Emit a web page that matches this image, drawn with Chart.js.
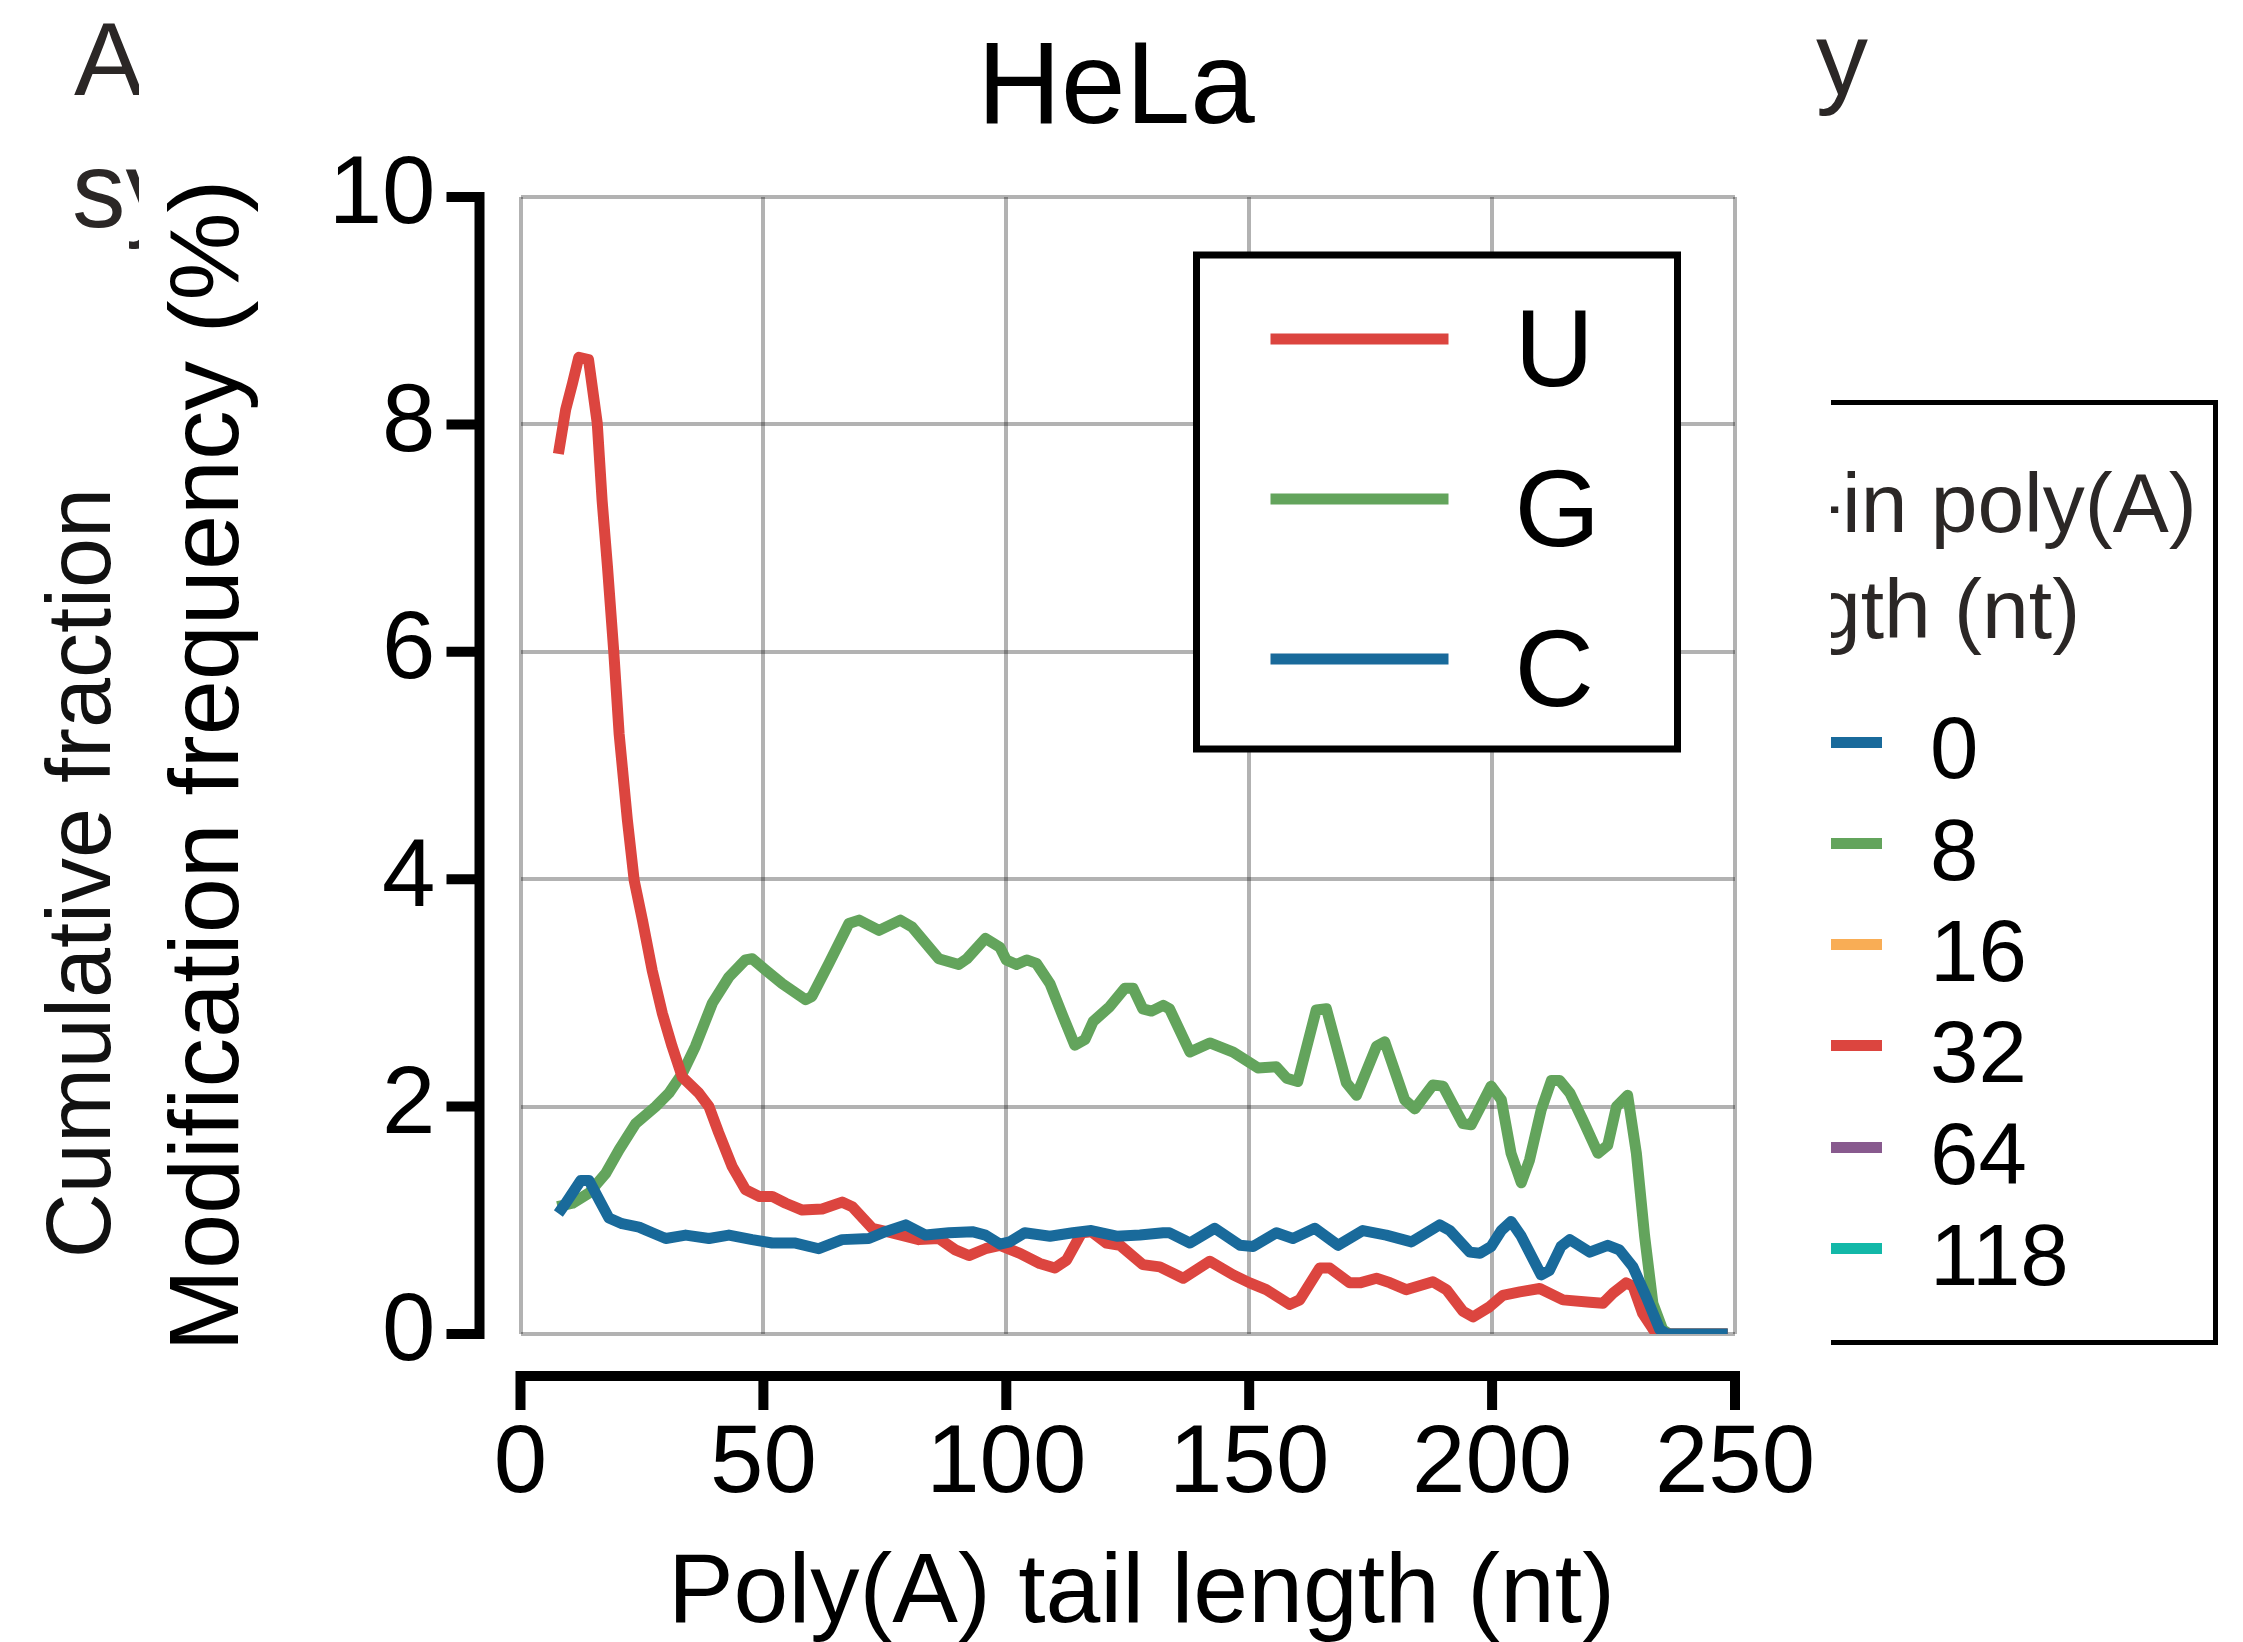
<!DOCTYPE html>
<html>
<head>
<meta charset="utf-8">
<title>HeLa modification frequency</title>
<script src="https://cdn.jsdelivr.net/npm/chart.js@4.4.1/dist/chart.umd.min.js"></script>
<style>
	body { margin: 0; background: #fff; overflow: hidden; }
	#page { position: relative; width: 2243px; height: 1642px; font-family: "Liberation Sans", Arial, sans-serif; }
	#page canvas { position: absolute; left: 0; top: 0; }
	.clip { position: absolute; overflow: hidden; }
	.txt { position: absolute; white-space: nowrap; }
	.swatch { position: absolute; height: 11px; }
</style>
</head>
<body>
<div id="page">
	<canvas id="freq-chart" width="2243" height="1642"></canvas>

	<!-- bits of the neighbouring panel that show around the chart -->
	<div class="clip" style="left:0; top:0; width:139px; height:300px;">
		<div class="txt" style="left:74px; top:7px; font-size:104px; line-height:104px; color:#2b2726;">A</div>
		<div class="txt" style="left:72px; top:137px; font-size:107px; line-height:107px; color:#2b2726;">sy</div>
	</div>
	<div class="txt" style="left:-371px; top:828px; width:900px; text-align:center; font-size:90px; line-height:90px; color:#111; transform:rotate(-90deg);">Cumulative fraction</div>
	<div class="txt" style="left:1816px; top:6px; font-size:104px; line-height:104px; color:#2b2726;">y</div>

	<div class="clip" id="side-legend" style="left:1831px; top:0; width:412px; height:1642px;"></div>
</div>

<script>
// poly(A) tail length (nt) and modification frequency (%)
const uLength = [7.8, 9.3, 10.7, 12.0, 14.0, 15.8, 16.8, 17.9, 19.2, 20.3, 22.0, 23.4, 25.1, 27.1, 29.2, 31.2, 33.3, 36.7, 38.8, 40.8, 43.6, 46.3, 49.1, 51.8, 54.6, 58.0, 62.1, 66.2, 68.3, 72.4, 76.5, 82.0, 86.1, 89.5, 92.3, 95.7, 98.7, 102.8, 106.9, 110.0, 112.4, 115.5, 117.5, 120.6, 123.4, 128.1, 131.6, 136.4, 141.9, 146.7, 150.1, 153.5, 158.3, 160.4, 164.5, 166.6, 170.7, 172.8, 176.2, 179.0, 182.3, 187.8, 190.6, 194.0, 196.1, 199.5, 202.2, 205.7, 209.8, 214.6, 220.1, 222.8, 224.9, 227.6, 229.0, 231.0, 233.8, 248.5];
const uFreq = [7.74, 8.13, 8.36, 8.59, 8.57, 8.01, 7.33, 6.75, 6.00, 5.28, 4.52, 3.99, 3.64, 3.20, 2.82, 2.53, 2.26, 2.12, 2.00, 1.77, 1.47, 1.27, 1.21, 1.21, 1.15, 1.09, 1.10, 1.16, 1.12, 0.93, 0.89, 0.83, 0.84, 0.74, 0.69, 0.75, 0.78, 0.71, 0.62, 0.58, 0.65, 0.89, 0.90, 0.80, 0.78, 0.61, 0.59, 0.49, 0.64, 0.52, 0.45, 0.39, 0.26, 0.30, 0.58, 0.58, 0.45, 0.45, 0.49, 0.45, 0.39, 0.46, 0.39, 0.20, 0.15, 0.24, 0.34, 0.37, 0.40, 0.30, 0.28, 0.27, 0.36, 0.45, 0.42, 0.18, 0, 0];

const gLength = [7.6, 10.7, 14.1, 17.5, 20.3, 23.7, 27.8, 30.6, 33.3, 36.0, 39.5, 42.9, 46.3, 47.7, 50.5, 53.9, 58.7, 60.0, 63.5, 67.6, 69.7, 73.8, 78.2, 80.6, 86.1, 90.2, 91.9, 95.7, 98.7, 100.0, 102.1, 104.2, 106.2, 109.0, 111.7, 114.1, 116.2, 117.9, 121.3, 124.4, 126.1, 128.1, 129.9, 132.3, 133.6, 137.8, 141.9, 146.7, 151.8, 155.6, 157.7, 160.0, 163.8, 165.9, 170.0, 172.1, 176.2, 177.9, 182.0, 184.1, 187.8, 189.9, 194.0, 195.7, 199.8, 201.9, 203.9, 206.0, 207.7, 210.1, 212.2, 213.9, 216.0, 218.7, 221.8, 223.8, 225.6, 227.9, 229.7, 231.4, 233.1, 235.1, 236.5, 248.5];
const gFreq = [1.12, 1.15, 1.24, 1.41, 1.62, 1.85, 2.00, 2.12, 2.29, 2.53, 2.91, 3.14, 3.29, 3.30, 3.20, 3.08, 2.94, 2.97, 3.26, 3.61, 3.64, 3.55, 3.64, 3.58, 3.30, 3.25, 3.30, 3.48, 3.40, 3.29, 3.25, 3.29, 3.26, 3.08, 2.79, 2.54, 2.59, 2.75, 2.88, 3.04, 3.04, 2.86, 2.84, 2.89, 2.86, 2.48, 2.56, 2.48, 2.34, 2.35, 2.25, 2.22, 2.85, 2.86, 2.21, 2.10, 2.53, 2.57, 2.06, 1.98, 2.19, 2.18, 1.85, 1.84, 2.18, 2.06, 1.59, 1.33, 1.53, 1.97, 2.23, 2.23, 2.12, 1.88, 1.59, 1.66, 2.00, 2.10, 1.59, 0.86, 0.27, 0.04, 0, 0];

const cLength = [7.8, 9.3, 12.4, 14.1, 16.2, 18.2, 20.9, 24.4, 27.1, 29.9, 34.0, 38.8, 42.9, 47.7, 51.8, 56.6, 61.4, 66.2, 71.7, 75.1, 79.3, 83.4, 88.2, 93.0, 95.7, 98.7, 100.7, 103.8, 109.0, 113.7, 117.5, 122.7, 127.5, 132.3, 133.6, 137.8, 142.9, 148.1, 150.8, 155.6, 159.0, 163.5, 168.3, 173.4, 178.2, 183.4, 189.2, 191.3, 195.4, 197.5, 199.8, 201.9, 203.9, 206.0, 210.1, 211.8, 214.2, 216.0, 220.1, 223.8, 226.2, 229.0, 231.7, 234.5, 236.0, 248.5];
const cFreq = [1.06, 1.15, 1.35, 1.35, 1.18, 1.02, 0.97, 0.94, 0.89, 0.84, 0.87, 0.84, 0.87, 0.83, 0.80, 0.80, 0.75, 0.83, 0.84, 0.90, 0.96, 0.87, 0.89, 0.90, 0.87, 0.79, 0.81, 0.89, 0.86, 0.89, 0.91, 0.86, 0.87, 0.89, 0.89, 0.80, 0.93, 0.78, 0.77, 0.89, 0.84, 0.93, 0.78, 0.91, 0.87, 0.81, 0.96, 0.91, 0.72, 0.71, 0.77, 0.91, 0.99, 0.86, 0.52, 0.56, 0.77, 0.83, 0.72, 0.78, 0.74, 0.59, 0.33, 0.04, 0, 0];

const xTicks = [0, 50, 100, 150, 200, 250];
const yTicks = [0, 2, 4, 6, 8, 10];

// legend of the panel next door (only partly visible)
const sideLegendTitle = ["-in poly(A)", "gth (nt)"];
const sideLegendLabels = ["0", "8", "16", "32", "64", "118"];
const sideLegendColors = ["#196a9b", "#63a45c", "#f9ad55", "#dc453f", "#885a8e", "#12b8a8"];

const RED = "#dc453f", GREEN = "#63a45c", BLUE = "#196a9b";
const FONT = '"Liberation Sans", Arial, Helvetica, sans-serif';
const LINE_W = 11;

Chart.defaults.font.family = FONT;
Chart.defaults.color = "#000";

function toPoints(xs, ys)
{
	return xs.map(function (x, i) { return {x: x, y: ys[i]}; });
}

// black axes drawn a little away from the grid, Prism style
const offsetAxes = {
	id: "offsetAxes",
	afterDraw(chart)
	{
		const {ctx, chartArea} = chart;
		const x = chart.scales.x, y = chart.scales.y;
		const axY = chartArea.bottom + 42;
		const axX = chartArea.left - 41;
		ctx.save();
		ctx.strokeStyle = "#000";
		ctx.lineWidth = 10;
		ctx.lineCap = "butt";
		ctx.beginPath();
		ctx.moveTo(x.getPixelForValue(xTicks[0]) - 5, axY);
		ctx.lineTo(x.getPixelForValue(xTicks[xTicks.length - 1]) + 5, axY);
		xTicks.forEach(function (v)
		{
			const px = x.getPixelForValue(v);
			ctx.moveTo(px, axY);
			ctx.lineTo(px, axY + 34);
		});
		ctx.moveTo(axX, y.getPixelForValue(yTicks[yTicks.length - 1]) - 5);
		ctx.lineTo(axX, y.getPixelForValue(yTicks[0]) + 5);
		yTicks.forEach(function (v)
		{
			const py = y.getPixelForValue(v);
			ctx.moveTo(axX, py);
			ctx.lineTo(axX - 33, py);
		});
		ctx.stroke();
		ctx.restore();
	}
};

// boxed U / G / C legend sitting inside the plot
const boxLegend = {
	id: "boxLegend",
	afterDraw(chart)
	{
		const {ctx, chartArea} = chart;
		const left = chartArea.left + 676, top = chartArea.top + 58;
		ctx.save();
		ctx.fillStyle = "#fff";
		ctx.fillRect(left, top, 481, 494);
		ctx.strokeStyle = "#000";
		ctx.lineWidth = 7;
		ctx.strokeRect(left, top, 481, 494);
		ctx.font = "110px " + FONT;
		ctx.textBaseline = "alphabetic";
		ctx.textAlign = "left";
		chart.data.datasets.forEach(function (ds, i)
		{
			const rowY = top + 84 + i * 160;
			ctx.strokeStyle = ds.borderColor;
			ctx.lineWidth = 11;
			ctx.beginPath();
			ctx.moveTo(left + 74, rowY);
			ctx.lineTo(left + 252, rowY);
			ctx.stroke();
			ctx.fillStyle = "#000";
			ctx.fillText(ds.label, left + 318, rowY + 47);
		});
		ctx.restore();
	}
};

const gridStyle = {color: "rgba(0,0,0,0.3)", lineWidth: 4, drawTicks: false};

function series(label, xs, ys, color, order)
{
	return {
		label: label,
		data: toPoints(xs, ys),
		borderColor: color,
		backgroundColor: color,
		borderWidth: LINE_W,
		borderJoinStyle: "round",
		borderCapStyle: "butt",
		tension: 0,
		fill: false,
		pointRadius: 0,
		pointHoverRadius: 0,
		order: order
	};
}

const chart = new Chart(document.getElementById("freq-chart"), {
	type: "line",
	data: {
		datasets: [
			series("U", uLength, uFreq, RED, 1),
			series("G", gLength, gFreq, GREEN, 2),
			series("C", cLength, cFreq, BLUE, 0)
		]
	},
	options: {
		responsive: false,
		animation: false,
		devicePixelRatio: 1,
		layout: {padding: {left: 140, right: 151, top: 0, bottom: 0}},
		plugins: {
			legend: {display: false},
			tooltip: {enabled: false},
			title: {
				display: true,
				text: "HeLa",
				color: "#000",
				font: {size: 116, weight: "normal", lineHeight: 1},
				padding: {top: 33, bottom: 48}
			}
		},
		scales: {
			x: {
				type: "linear",
				min: 0, max: 250,
				afterFit: function (s) { s.height = 308; },
				afterBuildTicks: function (s) { s.ticks = xTicks.map(function (v) { return {value: v}; }); },
				grid: gridStyle,
				border: {display: false},
				ticks: {font: {size: 96}, color: "#000", padding: 74, maxRotation: 0},
				title: {
					display: true,
					text: " Poly(A) tail length (nt)",
					color: "#000",
					font: {size: 98.5, lineHeight: 1},
					padding: {top: 0, bottom: -2}
				}
			},
			y: {
				min: 0, max: 10,
				afterFit: function (s) { s.width = 380.5; },
				afterBuildTicks: function (s) { s.ticks = yTicks.map(function (v) { return {value: v}; }); },
				grid: gridStyle,
				border: {display: false},
				ticks: {font: {size: 96}, color: "#000", padding: 85},
				title: {
					display: true,
					text: "Modification frequency (%)",
					color: "#000",
					font: {size: 99, lineHeight: 1},
					padding: {top: 21, bottom: 0}
				}
			},
			// empty right-hand box so the plot keeps the reference's width
			yRight: {
				position: "right",
				display: true,
				afterFit: function (s) { s.width = 357; },
				grid: {display: false},
				border: {display: false},
				ticks: {display: false}
			}
		}
	},
	plugins: [offsetAxes, boxLegend]
});

// side legend of the neighbouring panel, clipped at its left edge
const side = document.getElementById("side-legend");
const sideLeft = 1831;
function addEl(cls, css, text)
{
	const el = document.createElement("div");
	el.className = cls;
	el.style.cssText = css;
	if (text !== undefined) el.textContent = text;
	side.appendChild(el);
	return el;
}
addEl("", "position:absolute; left:" + (1700 - sideLeft) + "px; top:400px; width:518px; height:945px; box-sizing:border-box; border:5px solid #000;");
sideLegendTitle.forEach(function (t, i)
{
	addEl("txt", "left:" + (1814 - sideLeft) + "px; top:" + (461 + i * 106) + "px; font-size:84px; line-height:84px; color:#2b2726;", t);
});
sideLegendLabels.forEach(function (t, i)
{
	const rowY = 742 + i * 101.3;
	addEl("swatch", "left:-40px; width:" + (1882 - sideLeft + 40) + "px; top:" + (rowY - 5.5) + "px; background:" + sideLegendColors[i] + ";");
	addEl("txt", "left:" + (1930 - sideLeft) + "px; top:" + (rowY + 36 - 73.6) + "px; font-size:87px; line-height:87px; color:#000;", t);
});
</script>
</body>
</html>
